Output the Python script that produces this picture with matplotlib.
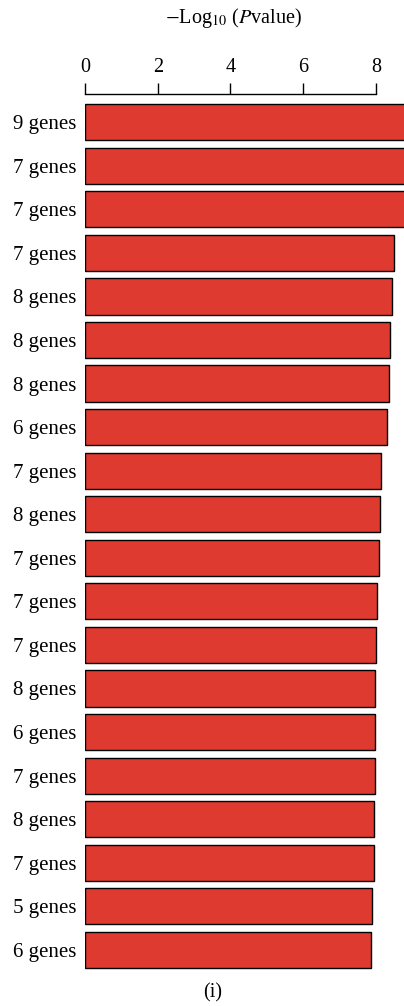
import matplotlib.pyplot as plt

# gene sets, top to bottom
labels = ['9 genes', '7 genes', '7 genes', '7 genes', '8 genes', '8 genes',
          '8 genes', '6 genes', '7 genes', '8 genes', '7 genes', '7 genes',
          '7 genes', '8 genes', '6 genes', '7 genes', '8 genes', '7 genes',
          '5 genes', '6 genes']
# -log10(p) per set
scores = [8.95, 8.9, 8.85, 8.49, 8.44, 8.38, 8.35, 8.29, 8.15, 8.12,
          8.08, 8.03, 7.99, 7.98, 7.98, 7.97, 7.94, 7.94, 7.90, 7.87]
ticks = [0, 2, 4, 6, 8]

plt.rcParams['font.family'] = ['Liberation Serif', 'DejaVu Serif']
plt.rcParams['mathtext.fontset'] = 'stix'

fig = plt.figure(figsize=(4.04, 10.06), dpi=100)
ax = fig.add_axes([85 / 404, 0.0342, 1 - 85 / 404, 0.9066 - 0.0342])

pos = list(range(len(scores)))
ax.barh(pos, scores, height=0.83, color='#de3a30', edgecolor='black', linewidth=1.0)

ax.set_xlim(0, 8.77)
ax.set_ylim(len(scores) - 0.5, -0.648)

ax.xaxis.tick_top()
ax.set_xticks(ticks)
ax.set_xticklabels([str(t) for t in ticks])
ax.tick_params(axis='x', direction='out', length=8, width=1, pad=4, labelsize=14.5)
ax.set_yticks(pos)
ax.set_yticklabels(labels)
ax.tick_params(axis='y', length=0, pad=6, labelsize=15)

for s in ['left', 'right', 'bottom']:
    ax.spines[s].set_visible(False)
ax.spines['top'].set_bounds(0, 8)
ax.spines['top'].set_linewidth(1)

fig.text(233 / 404, 1 - 18 / 1006, r'$-$Log$_{10}$ ($P$value)', ha='center', va='center', fontsize=14.5)
fig.text(213 / 404, 1 - 993 / 1006, '(i)', ha='center', va='center', fontsize=14.5)

fig.savefig('out.png', dpi=100)
